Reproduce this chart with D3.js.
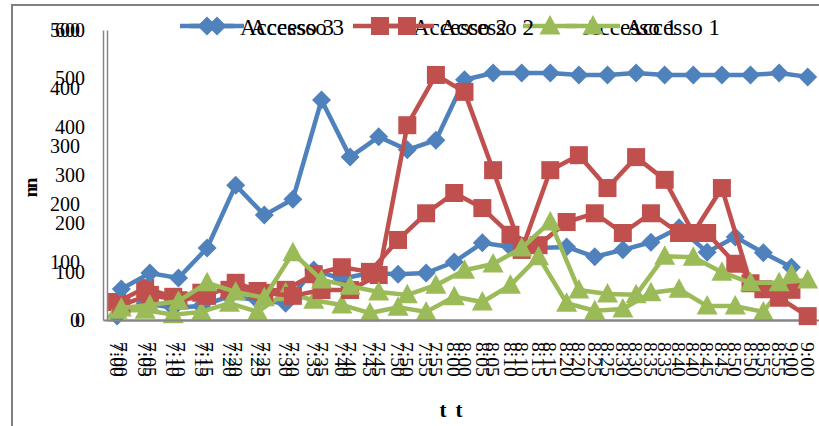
<!DOCTYPE html>
<html>
<head>
<meta charset="utf-8">
<script src="https://cdn.jsdelivr.net/npm/d3@7/dist/d3.min.js"></script>
<style>
  html, body { margin: 0; padding: 0; background: #fff; }
  svg { display: block; }
</style>
</head>
<body>
<svg id="chart" width="819" height="426"></svg>
<script>
// Five-minute sampling times
const times = ["7:00","7:05","7:10","7:15","7:20","7:25","7:30","7:35","7:40","7:45",
               "7:50","7:55","8:00","8:05","8:10","8:15","8:20","8:25","8:30","8:35",
               "8:40","8:45","8:50","8:55","9:00"];

// Vertical axis ticks of the two overlaid panels
const ticksA = [0, 100, 200, 300, 400, 500, 600];
const ticksB = [0, 100, 200, 300, 400, 500];

// Panel A counts
const accesso3A = [64, 97, 87, 149, 279, 217, 250, 455, 337, 379, 352, 372, 497,
                   511, 511, 511, 507, 507, 511, 507, 507, 507, 507, 511, 503];
const accesso2A = [31, 52, 41, 50, 77, 56, 50, 62, 62, 93, 403, 507, 472,
                   310, 145, 310, 341, 273, 337, 290, 180, 273, 76, 46, 8];
const accesso1A = [25, 31, 39, 77, 58, 46, 139, 83, 70, 58, 52, 72, 103,
                   116, 149, 203, 62, 54, 52, 132, 130, 99, 77, 77, 83];

// Panel B counts
const accesso3B = [7, 29, 21, 24, 41, 34, 29, 86, 71, 81, 79, 81, 100,
                   133, 126, 124, 126, 109, 121, 134, 159, 117, 143, 116, 91];
const accesso2B = [31, 55, 40, 47, 52, 50, 52, 79, 91, 83, 138, 184, 219,
                   193, 147, 129, 169, 184, 150, 184, 150, 150, 97, 53, 52];
const accesso1B = [17, 17, 9, 14, 29, 14, 47, 34, 26, 12, 22, 14, 40,
                   31, 60, 109, 29, 16, 19, 47, 53, 24, 24, 14, 78];

const seriesNames = ["Accesso 3", "Accesso 2", "Accesso 1"];
const seriesColors = ["#4F81BD", "#C0504D", "#9BBB59"];
const seriesShapes = ["diamond", "square", "triangle"];

const svg = d3.select("#chart");
const serif = "'Liberation Serif', 'Times New Roman', serif";
const axisGrey = "#868686";
const plotTop = 30, plotBottom = 320;

// outer frame
svg.append("rect")
  .attr("x", 12).attr("y", 5).attr("width", 830).attr("height", 440)
  .attr("fill", "none").attr("stroke", "#808080").attr("stroke-width", 2);

function markerPath(shape) {
  if (shape === "diamond") return "M0,-9.5L9.5,0L0,9.5L-9.5,0Z";
  if (shape === "square") return "M-9,-9H9V9H-9Z";
  return "M0,-11L10.5,8.5H-10.5Z";
}

function drawPanel(cfg) {
  const g = svg.append("g");
  const x = d3.scaleBand().domain(times).range([cfg.left, cfg.right]);
  const cx = d => x(d) + x.bandwidth() / 2;
  const y = d3.scaleLinear().domain([0, cfg.yMax]).range([plotBottom, plotTop]);

  // value axis
  const ya = g.append("g")
    .attr("transform", `translate(${cfg.left},0)`)
    .call(d3.axisLeft(y).tickValues(cfg.ticks).tickSize(0).tickPadding(cfg.left - cfg.labelRight));
  ya.select(".domain").attr("stroke", axisGrey).attr("stroke-width", 1.5);
  ya.selectAll("text").attr("font-family", serif).attr("font-size", 20).attr("fill", "#000");

  // category axis
  const xa = g.append("g")
    .attr("transform", `translate(0,${plotBottom})`)
    .call(d3.axisBottom(x).tickSize(0).tickSizeOuter(0));
  xa.select(".domain").attr("stroke", axisGrey).attr("stroke-width", 2);
  xa.selectAll("text")
    .attr("font-family", serif).attr("font-size", 19.5).attr("fill", "#000")
    .attr("transform", "rotate(90)")
    .attr("x", 22).attr("y", 0).attr("dy", "0.35em")
    .attr("text-anchor", "start");

  // series lines and markers
  cfg.series.forEach((vals, i) => {
    const pts = vals.map((v, k) => [cx(times[k]), y(v)]);
    g.append("path")
      .attr("d", d3.line()(pts))
      .attr("fill", "none")
      .attr("stroke", seriesColors[i])
      .attr("stroke-width", 4.5)
      .attr("stroke-linejoin", "round");
    g.append("g").selectAll("path").data(pts).join("path")
      .attr("transform", p => `translate(${p[0]},${p[1]})`)
      .attr("d", markerPath(seriesShapes[i]))
      .attr("fill", seriesColors[i]);
  });

  // legend
  const lg = g.append("g");
  seriesNames.forEach((name, i) => {
    const mx = cfg.legend[i];
    lg.append("line")
      .attr("x1", mx - 27).attr("x2", mx + 27).attr("y1", 26).attr("y2", 26)
      .attr("stroke", seriesColors[i]).attr("stroke-width", 4.5);
    lg.append("path")
      .attr("transform", `translate(${mx},26)`)
      .attr("d", markerPath(seriesShapes[i]))
      .attr("fill", seriesColors[i]);
    lg.append("text")
      .attr("x", mx + 33).attr("y", 35)
      .attr("font-family", serif).attr("font-size", 23).attr("fill", "#000")
      .text(name);
  });

  // axis titles
  g.append("text")
    .attr("transform", `translate(${cfg.yTitleX},${cfg.yTitleY}) rotate(-90)`)
    .attr("text-anchor", "middle")
    .attr("font-family", serif).attr("font-weight", "bold").attr("font-size", 19)
    .text("n");
  g.append("text")
    .attr("x", cfg.xTitleX).attr("y", 417)
    .attr("text-anchor", "middle")
    .attr("font-family", serif).attr("font-weight", "bold").attr("font-size", 21)
    .text("t");
}

drawPanel({
  left: 103, right: 805.5, yMax: 500, ticks: ticksB, labelRight: 80,
  legend: [207, 380, 550], yTitleX: 37, yTitleY: 183, xTitleX: 443,
  series: [accesso3B, accesso2B, accesso1B]
});
drawPanel({
  left: 107, right: 822, yMax: 600, ticks: ticksA, labelRight: 85,
  legend: [217, 407, 593], yTitleX: 37, yTitleY: 192, xTitleX: 459,
  series: [accesso3A, accesso2A, accesso1A]
});
</script>
</body>
</html>
